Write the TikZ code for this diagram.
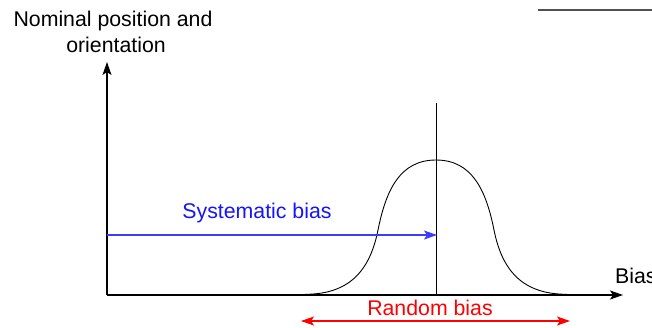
\documentclass[tikz,border=0pt]{standalone}
\usepackage{fontspec}
\setmainfont{Liberation Sans}
\usetikzlibrary{arrows.meta}
\tikzset{
  axis/.style={line width=1.3pt,-{Stealth[length=13pt,width=9pt,inset=3pt]}},
  lbl/.style={font=\fontsize{21.3}{25}\selectfont,inner sep=0pt,anchor=base},
  bell/.style={line width=0.9pt},
}
\begin{document}
\begin{tikzpicture}[x=1pt,y=-1pt]
\useasboundingbox (0,0) rectangle (652,327);
% coordinates
\coordinate (O) at (107,295);
\coordinate (Ytip) at (107,62);
\coordinate (Xtip) at (623,295);
\coordinate (Mtop) at (436,103);
\coordinate (Mbot) at (436,295);
\coordinate (Sstart) at (107,235);
\coordinate (Send) at (437,235);
\coordinate (Rl) at (301,321);
\coordinate (Rr) at (570,321);
\coordinate (Gl) at (538,10);
\coordinate (Gr) at (652,10);
% top-right rule
\draw[line width=1.6pt,draw={rgb,255:red,80;green,80;blue,80}] (Gl) -- (Gr);
% axes
\draw[axis] (O) -- (Ytip);
\draw[axis] (O) -- (Xtip);
% vertical mean line
\draw[line width=0.9pt] (Mbot) -- (Mtop);
% bell curve
\draw[bell] (305,294.3) .. controls (350,294.3) and (370,270) .. (378,230)
  .. controls (386,190) and (400,160) .. (436,160)
  .. controls (472,160) and (486,190) .. (494,230)
  .. controls (502,270) and (522,294.3) .. (567,294.3);
% systematic bias arrow
\draw[line width=1.1pt,draw={rgb,255:red,60;green,60;blue,255},-{Stealth[length=13pt,width=9pt,inset=3pt]}] (Sstart) -- (Send);
% random bias arrow
\draw[line width=1.1pt,red,{Stealth[length=13pt,width=9pt,inset=3pt]}-{Stealth[length=13pt,width=9pt,inset=3pt]}] (Rl) -- (Rr);
% labels
\node[lbl] (nom) at (113,26) {Nominal position and};
\node[lbl] (ori) at (116,52) {orientation};
\node[lbl,text={rgb,255:red,20;green,20;blue,255}] (sys) at (257,218) {Systematic bias};
\node[lbl,text=red] (rnd) at (430,315) {Random bias};
\node[lbl,anchor=base west] (bias) at (615,283) {Bias};
\end{tikzpicture}
\end{document}
